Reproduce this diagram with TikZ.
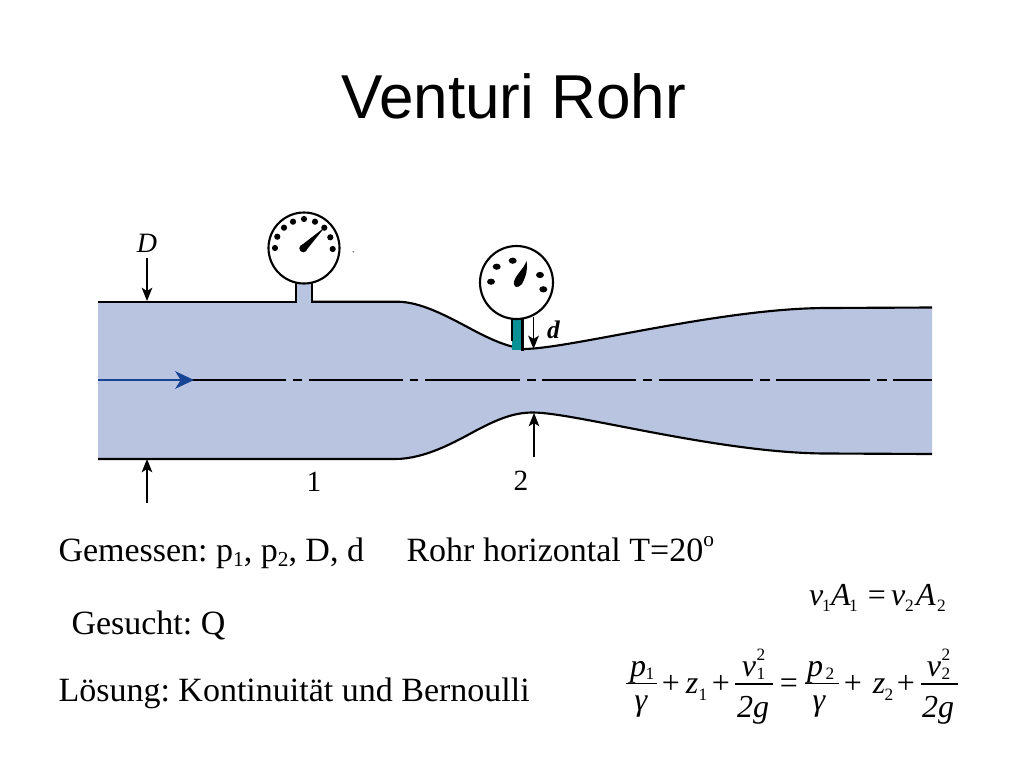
\documentclass[tikz,border=0pt]{standalone}
\usepackage{fontspec}
\setmainfont{Liberation Serif}
\newfontfamily\titlefont{Liberation Sans}
\usetikzlibrary{arrows.meta}
\definecolor{pipefill}{RGB}{185,196,224}
\definecolor{flowblue}{RGB}{24,68,150}
\definecolor{stemteal}{RGB}{10,145,150}
\newcommand{\lowidx}[1]{\raisebox{-0.17em}{\fontsize{16pt}{16pt}\selectfont #1}}
\newcommand{\highidx}[1]{\raisebox{0.42em}{\fontsize{16pt}{16pt}\selectfont #1}}
\tikzset{
  every node/.style={inner sep=0pt,outer sep=0pt},
  wall/.style={line width=1.6pt,black},
  dimarrow/.style={line width=1.1pt,black,-{Stealth[length=10pt,width=8pt,inset=2.5pt]}},
  gaugeface/.style={draw=black,fill=white,line width=1.6pt},
  gaugedot/.style={fill=black,draw=none},
  bodytext/.style={font=\fontsize{25.5pt}{28pt}\selectfont\frenchspacing,anchor=base west},
  eqterm/.style={font=\fontsize{24pt}{26pt}\selectfont\itshape,anchor=base},
  eqop/.style={font=\fontsize{24pt}{26pt}\selectfont,anchor=base},
  eqidx/.style={font=\fontsize{13pt}{14pt}\selectfont,anchor=base},
  fracrule/.style={line width=0.8pt,black},
}
\begin{document}
\begin{tikzpicture}[x=0.75pt,y=-0.75pt]
\useasboundingbox (0,0) rectangle (1024,768);
\fill[white] (0,0) rectangle (1024,768);
% title
\node[font=\titlefont\fontsize{46.5pt}{48pt}\selectfont,anchor=base] (title) at (513.5,118) {Venturi Rohr};
% pipe fill
\fill[pipefill] (98,301.5) -- (397,301.5)
  .. controls (420,301.5) and (445,315) .. (473,330)
  .. controls (490,339) and (505,346) .. (523,349)
  .. controls (570,349) and (720,308) .. (827,308)
  -- (932,307.5) -- (932,454)
  -- (827,453.5)
  .. controls (720,453.5) and (575,412.5) .. (533,412.5)
  .. controls (515,412.5) and (500,418) .. (477,430)
  .. controls (455,442) and (425,459) .. (395,459)
  -- (98,459) -- cycle;
% stem of gauge 1
\fill[pipefill] (296,280) rectangle (312,304);
\draw[wall] (296,281) -- (296,302);
\draw[wall] (312,281) -- (312,302);
% walls
\draw[wall] (98,301.7) -- (296.8,301.7);
\draw[wall] (311.2,301.7) -- (397,301.7)
  .. controls (420,301.7) and (445,315) .. (473,330)
  .. controls (490,339) and (502,344) .. (512,346.5);
\draw[wall] (523,349) .. controls (570,349) and (720,308) .. (827,308) -- (932,307.5);
\draw[wall] (932,454) -- (827,453.5)
  .. controls (720,453.5) and (575,412.5) .. (533,412.5)
  .. controls (515,412.5) and (500,418) .. (477,430)
  .. controls (455,442) and (425,459) .. (395,459)
  -- (98,459);
% stem of gauge 2
\fill[stemteal] (512,317) rectangle (522,350);
\draw[line width=2.1pt] (512,317) -- (512,341);
\draw[line width=2.1pt] (522.5,317) -- (522.5,351);
% gauges
\draw[gaugeface] (304,248) circle [radius=35.5];
\foreach \px/\py in {275/248,277.3/236.7,284/227.7,293/221.7,304/219,315/221.7,324.3/227.7,330.3/237.3,332.7/249}
  \fill[gaugedot] (\px,\py) circle [radius=3.1];
\fill[black] (300.8,245.8) -- (325,227) -- (305.8,250.8) -- cycle;
\fill[black] (303.3,248.3) circle [radius=4];
\draw[gaugeface] (516.5,282.5) circle [radius=36.5];
\foreach \px/\py in {491/281.7,496.7/266.7,512.7/260.7,540/275,543.3/289.3}
  \fill[gaugedot] (\px,\py) ellipse [x radius=4,y radius=3.1];
\fill[black] (514.5,280) .. controls (518,272) and (523,270) .. (526.5,261)
  .. controls (528,270) and (526,276) .. (522,284) .. controls (518,289) and (512,288) .. (514.5,280) -- cycle;
\fill[gray] (353.3,251.7) circle [radius=1];
% centre line
\foreach \a/\b in {190/286,293/302,309/403,410/418,425/520,527/536,542/636,643/652,659/753,760/770,776/870,877/887,893/932}
  \draw[line width=1.6pt,black] (\a,380) -- (\b,380);
% flow arrow
\coordinate (flowstart) at (98,380);
\coordinate (flowend) at (194,380);
\draw[line width=2pt,flowblue,-{Stealth[length=14pt,width=13pt,inset=4pt]}] (flowstart) -- (flowend);
% dimension arrows
\coordinate (Dtopa) at (147,258); \coordinate (Dtopb) at (147,301);
\coordinate (Dbota) at (147,503); \coordinate (Dbotb) at (147,459);
\coordinate (dtopa) at (533.5,317); \coordinate (dtopb) at (533.5,349);
\coordinate (dbota) at (534,457); \coordinate (dbotb) at (534,413);
\draw[dimarrow] (Dtopa) -- (Dtopb);
\draw[dimarrow] (Dbota) -- (Dbotb);
\draw[dimarrow] (dtopa) -- (dtopb);
\draw[dimarrow] (dbota) -- (dbotb);
% diagram labels
\node[font=\fontsize{21pt}{22pt}\selectfont\itshape,anchor=base] (labD) at (147,252) {D};
\node[font=\fontsize{19pt}{20pt}\selectfont\itshape\bfseries,anchor=base] (labd) at (553.5,338) {d};
\node[font=\fontsize{22pt}{24pt}\selectfont,anchor=base] (lab1) at (314,491) {1};
\node[font=\fontsize{22pt}{24pt}\selectfont,anchor=base] (lab2) at (521,490) {2};
% text
\node[bodytext] (gem) at (58.5,561) {Gemessen: p\lowidx{1}, p\lowidx{2}, D, d};
\node[bodytext] (rohr) at (406.5,561) {Rohr horizontal T=20\highidx{o}};
\node[bodytext] (ges) at (71.5,634) {Gesucht: Q};
\node[bodytext] (loes) at (58.5,701) {Lösung: Kontinuität und Bernoulli};
% continuity
\node[eqterm,anchor=base west] (c1) at (809,605) {v};
\node[eqidx,anchor=base west] (c2) at (822,611) {1};
\node[eqterm,anchor=base west] (c3) at (831,605) {A};
\node[eqidx,anchor=base west] (c4) at (849,611) {1};
\node[eqop] (c5) at (877,605) {=};
\node[eqterm,anchor=base west] (c6) at (891,605) {v};
\node[eqidx,anchor=base west] (c7) at (905,611) {2};
\node[eqterm,anchor=base west] (c8) at (916,605) {A};
\node[eqidx,anchor=base west] (c9) at (937,611) {2};
% Bernoulli
\draw[fracrule] (626,683.5) -- (657,683.5);
\draw[fracrule] (735,684) -- (773,684);
\draw[fracrule] (805,683.5) -- (839,683.5);
\draw[fracrule] (921,684) -- (958,684);
\node[eqterm] (b1) at (638,676) {p};
\node[eqidx] (b2) at (650,679) {1};
\node[eqterm] (b3) at (641,710) {γ};
\node[eqop] (b4) at (671,693) {+};
\node[eqterm] (b5) at (692,693) {z};
\node[eqidx] (b6) at (703,700) {1};
\node[eqop] (b7) at (721,693) {+};
\node[eqterm] (b8) at (749,676) {v};
\node[eqidx] (b9) at (761,660) {2};
\node[eqidx] (b10) at (761,679) {1};
\node[eqterm] (b11) at (753,717) {2g};
\node[eqop] (b12) at (789,693) {=};
\node[eqterm] (b13) at (815,676) {p};
\node[eqidx] (b14) at (830,679) {2};
\node[eqterm] (b15) at (819,710) {γ};
\node[eqop] (b16) at (853,693) {+};
\node[eqterm] (b17) at (879,693) {z};
\node[eqidx] (b18) at (889,700) {2};
\node[eqop] (b19) at (906,693) {+};
\node[eqterm] (b20) at (934,676) {v};
\node[eqidx] (b21) at (946,660) {2};
\node[eqidx] (b22) at (946,679) {2};
\node[eqterm] (b23) at (938,717) {2g};
\end{tikzpicture}
\end{document}
